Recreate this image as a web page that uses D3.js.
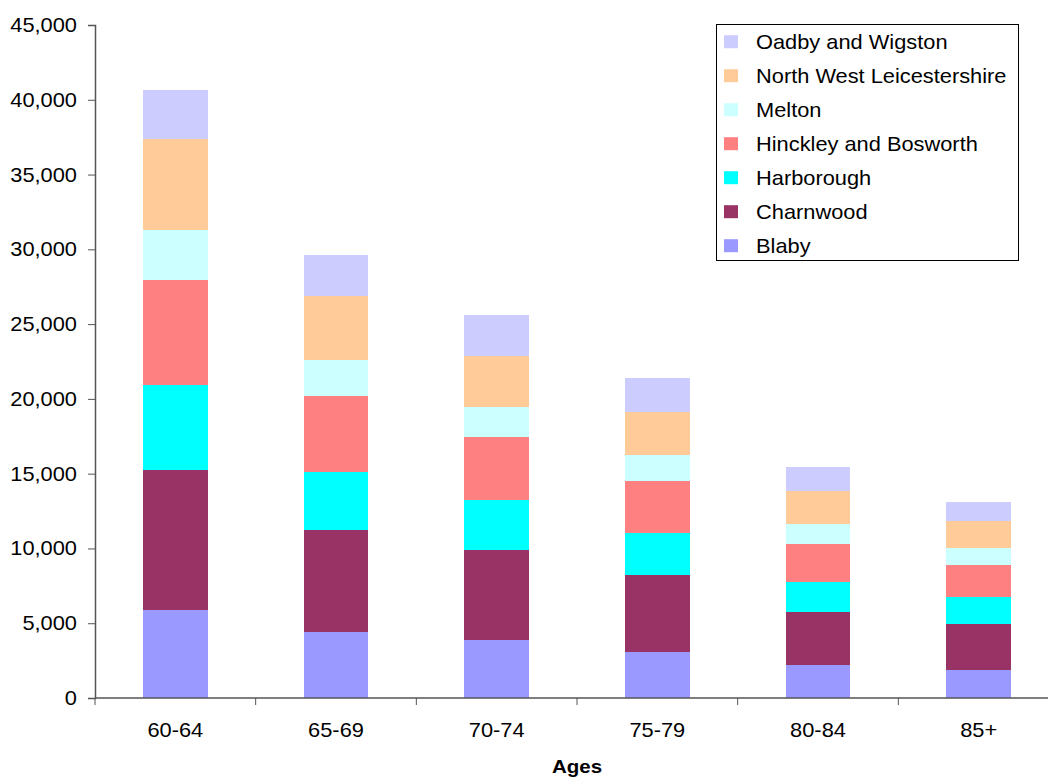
<!DOCTYPE html>
<html>
<head>
<meta charset="utf-8">
<script src="https://cdn.jsdelivr.net/npm/d3@7"></script>
<style>
  html, body { margin: 0; padding: 0; background: #fff; }
  svg { display: block; font-family: "Liberation Sans", Arial, sans-serif; }
</style>
</head>
<body>
<svg id="chart" width="1048" height="778"></svg>
<script>
// Age bands on the x axis
const ages = ["60-64", "65-69", "70-74", "75-79", "80-84", "85+"];

// Districts, bottom of the stack first
const districts = ["Blaby", "Charnwood", "Harborough", "Hinckley and Bosworth",
                   "Melton", "North West Leicestershire", "Oadby and Wigston"];

// Population per district, one value per age band
const blaby      = [5900, 4410, 3880, 3080, 2210, 1870];
const charnwood  = [9340, 6820, 6020, 5140, 3540, 3080];
const harborough = [5690, 3900, 3360, 2810, 2030, 1800];
const hinckley   = [7020, 5060, 4190, 3480, 2520, 2140];
const melton     = [3340, 2410, 2030, 1740, 1360, 1140];
const nwLeics    = [6070, 4300, 3410, 2890, 2180, 1800];
const oadby      = [3290, 2720, 2720, 2260, 1610, 1270];

const seriesValues = [blaby, charnwood, harborough, hinckley, melton, nwLeics, oadby];
const colors = ["#9999FF", "#993366", "#00FFFF", "#FF8080", "#CCFFFF", "#FFCC99", "#CCCCFF"];

const yTicks = [0, 5000, 10000, 15000, 20000, 25000, 30000, 35000, 40000, 45000];

const svg = d3.select("#chart");
const plot = { left: 95, right: 1059, top: 25, bottom: 698 };
const fontSize = 20.2;
const stretch = 1.08;   // slightly wide lettering
const axisColor = "#555";

// Text placed at (x, y) with horizontal stretch
function label(parent, x, y, str, anchor, size, weight) {
  return parent.append("text")
    .attr("transform", `translate(${x},${y}) scale(${stretch},1)`)
    .attr("text-anchor", anchor || "start")
    .attr("font-size", (size || fontSize) + "px")
    .attr("font-weight", weight || "normal")
    .attr("fill", "#000")
    .text(str);
}

// Rows for the stack generator
const rows = ages.map((a, i) => {
  const r = { age: a };
  districts.forEach((d, j) => { r[d] = seriesValues[j][i]; });
  return r;
});
const stacked = d3.stack().keys(districts)(rows);

const x = d3.scaleBand()
  .domain(ages)
  .range([plot.left, plot.right])
  .paddingInner(0.5955)
  .paddingOuter(0.5955 / 2);

const y = d3.scaleLinear()
  .domain([0, 45000])
  .range([plot.bottom, plot.top]);

// Bars
svg.append("g").selectAll("g")
  .data(stacked)
  .join("g")
  .attr("fill", (d, i) => colors[i])
  .selectAll("rect")
  .data(d => d)
  .join("rect")
  .attr("x", d => x(d.data.age))
  .attr("width", x.bandwidth())
  .attr("y", d => y(d[1]))
  .attr("height", d => y(d[0]) - y(d[1]))
  .attr("shape-rendering", "crispEdges");

// Y axis (line and ticks from d3.axisLeft, labels drawn separately)
const yAxis = svg.append("g")
  .attr("transform", `translate(${plot.left},0)`)
  .call(d3.axisLeft(y).tickValues(yTicks).tickFormat("").tickSize(7));
yAxis.select(".domain").attr("stroke", axisColor).attr("stroke-width", 1.5);
yAxis.selectAll(".tick line").attr("stroke", axisColor);
const fmt = d3.format(",");
const yLabels = svg.append("g");
yTicks.forEach(t => label(yLabels, 77, y(t) + 7, fmt(t), "end"));

// X axis with ticks on category boundaries
const xAxis = svg.append("g")
  .attr("transform", `translate(0,${plot.bottom})`);
xAxis.append("line")
  .attr("x1", plot.left).attr("x2", plot.right)
  .attr("stroke", axisColor).attr("stroke-width", 1.5);
const step = x.step();
const boundaries = d3.range(ages.length + 1).map(i => plot.left + i * step);
xAxis.selectAll(".bt")
  .data(boundaries)
  .join("line")
  .attr("x1", d => d).attr("x2", d => d)
  .attr("y1", 0).attr("y2", 7)
  .attr("stroke", axisColor);
ages.forEach(a => label(xAxis, x(a) + x.bandwidth() / 2, 39, a, "middle"));

// Axis title
label(svg, (plot.left + plot.right) / 2, 773, "Ages", "middle", 19, "bold");

// Legend, top series first
const legend = svg.append("g");
legend.append("rect")
  .attr("x", 716.5).attr("y", 24.5)
  .attr("width", 302).attr("height", 236)
  .attr("fill", "#fff").attr("stroke", "#000").attr("stroke-width", 1);
const legendItems = districts.map((d, i) => ({ name: d, color: colors[i] })).reverse();
legendItems.forEach((d, i) => {
  const cy = 41.7 + i * 34;
  legend.append("rect")
    .attr("x", 724).attr("y", cy - 6.5)
    .attr("width", 14).attr("height", 13)
    .attr("fill", d.color);
  label(legend, 756, cy + 7, d.name, "start");
});
</script>
</body>
</html>
